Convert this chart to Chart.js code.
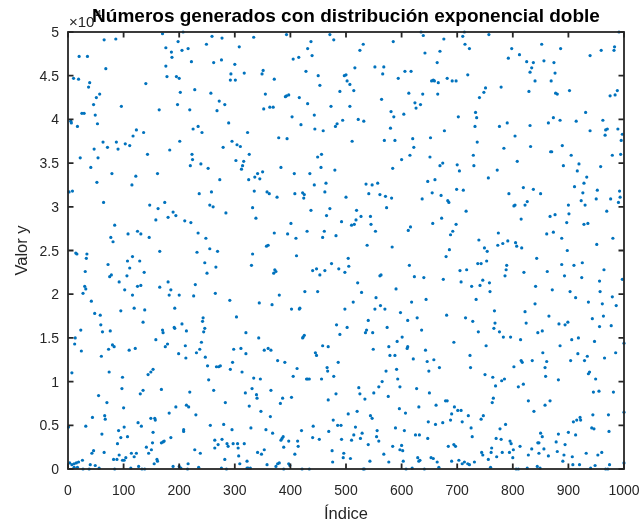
<!DOCTYPE html>
<html>
<head>
<meta charset="utf-8">
<title>Distribución exponencial doble</title>
<script src="https://cdn.jsdelivr.net/npm/chart.js@4.4.1/dist/chart.umd.min.js"></script>
<style>
  html, body { margin: 0; padding: 0; background: #ffffff; }
  #grafico { display: block; }
</style>
</head>
<body>
<canvas id="grafico" width="644" height="523"></canvas>
<script>
// ── Datos ──────────────────────────────────────────────────────────────────
// indice: posición de la muestra; valorY: valor en unidades de 10^4
const indice = [
  65,86,20,35,68,10,19,39,37,57, 51,96,46,25,29,49,5,6,17,53,
  63,87,71,90,47,22,54,41,79,52, 2,8,64,84,77,81,14,16,34,33,
  31,72,75,78,92,30,32,27,42,48, 58,95,59,62,76,23,13,12,24,73,
  80,83,60,7,74,98,97,55,70,100, 44,66,67,1,32,91,61,95,89,65,
  46,43,92,82,88,98,26,3,7,11, 15,19,11,17,27,38,40,49,56,84,

  170,198,176,186,187,176,178,195,200,140, 164,197,123,117,136,103,111,183,143,122,
  161,115,147,174,162,158,180,189,194,108, 125,131,146,165,116,107,129,111,137,106,
  102,125,131,116,165,180,185,182,200,119, 138,192,135,170,171,191,192,158,110,121,
  175,179,199,153,149,144,168,135,130,194, 182,126,132,149,156,157,101,153,107,185,
  168,171,173,152,141,150,145,114,123,119, 104,101,160,161,155,113,127,133,138,189,
  200,

  207,259,277,249,205,216,222,262,276,300, 293,292,202,228,257,219,272,268,282,289,
  225,234,241,201,295,279,223,224,220,239, 252,273,236,258,255,261,284,210,221,234,
  248,232,255,269,246,266,250,229,226,265, 291,243,242,246,244,205,213,240,237,231,
  211,212,247,298,296,251,267,271,274,292, 253,219,262,283,213,217,230,256,280,295,
  208,208,264,277,270,264,286,288,297,228, 238,282,216,203,215,235,276,285,

  334,393,308,317,301,351,349,371,355,391, 393,397,352,363,369,323,379,394,304,310,
  326,302,316,314,312,383,341,350,336,345, 325,335,358,362,376,332,338,395,371,357,
  360,332,330,372,374,370,380,344,367,303, 320,343,311,320,353,360,365,377,390,313,
  334,346,331,365,319,339,340,386,382,326, 347,364,329,356,368,387,385,383,397,305,
  317,388,306,353,341,348,307,322,309,380, 377,358,397,399,374,388,322,324,328,

  471,478,437,431,405,415,439,428,450,497, 500,453,489,416,431,473,403,443,419,444,
  459,481,484,494,449,456,480,455,407,435, 443,464,422,425,424,408,462,471,437,465,
  492,401,430,461,410,458,482,411,474,447, 440,462,453,487,498,426,449,402,416,417,
  498,483,423,422,425,489,458,468,445,447, 412,466,467,486,405,429,431,434,456,478,
  402,482,468,477,441,485,491,420,469,440, 452,492,413,414,408,475,496,495,476,421,
  434,

  531,585,525,516,552,568,566,502,507,514, 594,564,507,581,586,522,532,580,511,569,
  588,600,584,536,547,557,541,561,571,582, 500,573,519,527,518,515,510,544,545,553,
  538,583,504,505,561,563,521,590,528,554, 513,562,570,552,598,502,540,537,535,548,
  574,592,549,577,579,588,591,572,593,565, 559,597,523,525,550,534,576,596,504,520,
  544,547,517,589,529,556,555,514,526,510, 559,540,584,600,597,568,508,543,577,531,
  533,

  635,639,676,642,669,664,606,617,654,657, 659,666,682,691,698,613,638,665,624,626,
  634,604,677,652,620,622,615,651,669,674, 700,647,660,699,637,655,671,683,685,672,
  616,612,656,698,692,688,686,680,614,623, 640,675,644,618,681,611,628,636,601,611,
  610,694,643,621,646,658,649,668,627,650, 679,682,662,631,695,607,690,688,648,661,
  674,605,625,632,647,602,684,694,697,603, 629,631,633,653,657,664,667,690,608,619,
  641,

  713,710,757,714,722,798,792,719,751,748, 740,779,733,735,732,702,776,790,736,784,
  729,730,704,772,756,711,793,716,739,774, 773,782,791,749,754,737,743,705,717,753,
  789,788,786,707,726,741,746,758,759,734, 767,715,728,768,766,776,738,783,796,752,
  723,724,750,764,780,785,769,765,763,701, 707,720,709,747,743,787,725,777,727,770,
  779,762,795,797,744,746,761,781,794,771, 756,800,703,709,713,719,722,731,760,801,

  852,886,812,825,837,834,831,856,874,876, 840,869,829,877,880,873,864,885,831,804,
  832,868,870,889,808,891,819,837,850,802, 804,822,826,815,867,876,900,897,861,873,
  888,805,807,816,898,843,820,862,888,893, 841,871,840,822,865,824,883,894,899,845,
  853,814,885,854,861,858,859,815,817,835, 802,882,819,810,828,838,858,867,850,853,
  882,900,813,834,847,845,856,878,894,892, 880,847,828,864,890,806,810,826,844,849,

  991,983,982,959,939,902,988,984,975,931, 962,914,939,967,970,966,989,997,995,905,
  979,994,919,958,916,933,928,911,952,926, 992,976,993,990,950,923,930,901,969,928,
  935,980,951,910,925,964,924,956,957,997, 903,913,979,986,936,961,963,943,956,977,
  906,918,947,1000,985,965,917,934,929,904, 938,936,949,945,955,981,1000,944,972,915,
  921,922,942,909,946,973,913,1000,907,932, 953,960,908,920,940,948,967,971,974
];

const valorY = [
  4.91,4.92,4.72,4.72,4.58,4.47,4.46,4.42,4.37,4.29, 4.25,4.15,4.17,4.07,4.07,4.05,3.98,3.96,3.92,3.95,
  3.74,3.74,3.68,3.66,3.66,3.56,3.56,3.45,3.38,3.28, 3.17,3.18,3.05,2.79,2.65,2.60,2.47,2.46,2.46,2.41,
  2.26,2.34,2.20,2.22,2.14,2.09,2.06,2.01,1.92,1.78, 1.76,1.81,1.65,1.57,1.58,1.59,1.50,1.43,1.35,1.37,
  1.42,1.40,1.29,1.10,1.11,1.05,0.92,0.84,0.76,0.70, 0.59,0.61,0.57,0.48,0.49,0.44,0.40,0.36,0.29,0.19,
  0.21,0.18,0.16,0.11,0.11,0.10,0.10,0.07,0.05,0.06, 0.07,0.08,0.02,0.02,0.00,0.00,0.05,0.04,0.01,0.00,

  4.98,4.89,4.82,4.77,4.71,4.61,4.49,4.49,4.47,4.41, 4.11,4.17,3.88,3.81,3.85,3.72,3.70,3.65,3.60,3.35,
  3.38,3.25,3.02,3.05,2.98,2.85,2.88,2.94,2.90,2.69, 2.72,2.69,2.65,2.49,2.43,2.38,2.38,2.30,2.25,2.21,
  2.05,2.09,2.10,1.99,2.08,2.14,2.05,1.99,1.99,1.84, 1.82,1.84,1.68,1.59,1.56,1.62,1.61,1.48,1.36,1.38,
  1.40,1.43,1.32,1.14,1.11,1.08,0.91,0.90,0.86,0.71, 0.64,0.53,0.49,0.58,0.58,0.56,0.48,0.42,0.37,0.36,
  0.30,0.31,0.32,0.30,0.25,0.22,0.18,0.18,0.18,0.14, 0.13,0.10,0.11,0.09,0.06,0.01,0.03,0.00,0.00,0.03,
  0.03,

  5.00,4.95,4.93,4.86,4.79,4.81,4.66,4.65,4.68,4.63, 4.52,4.45,4.31,4.34,4.30,4.11,4.21,4.10,4.17,3.96,
  3.89,3.92,3.85,3.75,3.75,3.68,3.60,3.54,3.47,3.49, 3.44,3.31,3.15,3.17,3.02,3.00,2.93,2.84,2.82,2.70,
  2.64,2.48,2.52,2.49,2.36,2.31,2.24,2.11,1.98,2.01, 1.93,1.73,1.69,1.61,1.57,1.66,1.58,1.45,1.37,1.33,
  1.41,1.27,1.28,1.37,1.22,1.18,1.17,1.17,1.18,1.14, 1.02,0.88,0.90,0.76,0.73,0.71,0.62,0.50,0.51,0.45,
  0.45,0.43,0.33,0.34,0.28,0.24,0.29,0.26,0.29,0.22, 0.18,0.11,0.06,0.01,0.00,0.02,0.01,0.00,

  4.94,4.97,4.83,4.53,4.45,4.56,4.52,4.46,4.29,4.26, 4.27,4.28,4.12,4.14,4.14,3.85,3.79,3.78,3.71,3.69,
  3.60,3.53,3.52,3.47,3.43,3.45,3.38,3.40,3.34,3.32, 3.31,3.18,3.17,3.15,3.11,2.99,2.87,2.69,2.70,2.55,
  2.56,2.46,2.33,2.28,2.26,2.24,1.99,1.90,1.88,1.74, 1.56,1.50,1.38,1.32,1.36,1.38,1.36,1.24,1.22,1.11,
  1.04,1.03,0.92,0.90,0.87,0.85,0.81,0.81,0.75,0.72, 0.66,0.60,0.47,0.45,0.41,0.37,0.35,0.33,0.32,0.29,
  0.29,0.25,0.24,0.22,0.19,0.17,0.15,0.09,0.06,0.07, 0.06,0.05,0.06,0.04,0.03,0.00,0.01,0.01,0.01,

  4.97,4.91,4.89,4.81,4.69,4.71,4.73,4.55,4.50,4.50, 4.51,4.39,4.32,4.25,4.18,4.15,4.03,4.05,3.94,3.89,
  3.87,3.92,3.95,3.99,3.57,3.60,3.42,3.45,3.38,3.38, 3.25,3.27,3.16,3.14,3.10,3.15,3.17,2.98,2.96,2.90,
  2.83,2.81,2.72,2.72,2.64,2.65,2.67,2.44,2.35,2.29, 2.27,2.27,2.22,2.29,2.25,2.03,2.03,1.83,1.83,1.84,
  1.83,1.65,1.51,1.50,1.53,1.54,1.41,1.40,1.33,1.30, 1.15,1.16,1.12,1.22,1.06,1.03,1.03,1.03,1.03,1.06,
  0.82,0.86,0.79,0.56,0.49,0.50,0.50,0.44,0.43,0.36, 0.34,0.34,0.32,0.26,0.17,0.21,0.18,0.13,0.08,0.00,
  0.00,

  4.86,4.89,4.79,4.59,4.60,4.60,4.52,4.44,4.40,4.33, 4.47,4.23,4.15,4.09,4.03,4.00,3.98,3.90,3.75,3.76,
  3.76,3.54,3.44,3.26,3.25,3.27,3.15,3.14,3.12,3.10, 3.11,2.99,2.96,2.89,2.85,2.80,2.79,2.89,2.80,2.72,
  2.56,2.54,2.41,2.32,2.21,2.22,2.13,2.06,2.02,1.96, 1.91,1.87,1.83,1.83,1.79,1.62,1.70,1.59,1.56,1.56,
  1.62,1.46,1.37,1.40,1.30,1.30,1.14,1.12,1.03,1.00, 0.94,0.94,0.93,0.86,0.87,0.80,0.83,0.69,0.63,0.66,
  0.61,0.58,0.48,0.47,0.41,0.44,0.37,0.39,0.35,0.33, 0.32,0.28,0.26,0.27,0.22,0.17,0.12,0.09,0.08,0.00,
  0.00,

  5.00,4.96,4.92,4.76,4.78,4.65,4.55,4.55,4.44,4.45, 4.44,4.42,4.47,4.44,4.44,4.30,4.29,4.29,4.19,4.13,
  4.17,4.06,3.87,3.79,3.78,3.68,3.59,3.57,3.47,3.50, 3.48,3.29,3.31,3.20,3.09,3.16,3.13,3.07,3.05,2.87,
  2.77,2.73,2.81,2.80,2.72,2.68,2.51,2.43,2.33,2.20, 2.19,2.17,1.94,1.91,1.76,1.70,1.73,1.59,1.51,1.40,
  1.38,1.45,1.36,1.26,1.23,1.25,1.12,1.16,0.92,0.87, 0.78,0.78,0.73,0.71,0.71,0.64,0.63,0.56,0.54,0.51,
  0.53,0.44,0.39,0.39,0.35,0.21,0.26,0.28,0.26,0.09, 0.13,0.09,0.10,0.13,0.12,0.08,0.02,0.09,0.00,0.01,
  0.00,

  5.00,4.95,4.97,4.86,4.81,4.81,4.70,4.51,4.36,4.31, 4.25,4.37,4.08,4.02,3.92,4.03,3.92,3.96,3.74,3.67,
  3.59,3.47,3.41,3.42,3.33,3.19,3.15,2.95,2.62,2.70, 2.56,2.58,2.61,2.53,2.49,2.35,2.35,2.27,2.28,2.38,
  2.33,2.28,2.21,2.14,2.09,2.10,2.16,2.13,2.03,1.94, 1.81,1.73,1.69,1.67,1.61,1.57,1.57,1.51,1.51,1.41,
  1.30,1.16,1.08,1.05,1.01,1.03,0.95,0.81,0.76,0.67, 0.67,0.61,0.54,0.61,0.57,0.51,0.47,0.46,0.37,0.35,
  0.34,0.24,0.32,0.29,0.19,0.16,0.19,0.19,0.19,0.14, 0.11,0.13,0.10,0.06,0.08,0.06,0.05,0.08,0.02,0.22,

  4.86,4.81,4.74,4.66,4.65,4.59,4.54,4.67,4.65,4.53, 4.44,4.44,4.32,4.30,4.29,4.02,3.96,3.99,3.93,3.81,
  3.69,3.63,3.63,3.70,3.52,3.47,3.22,3.20,3.15,3.01, 3.02,3.02,3.06,2.86,2.89,2.91,3.02,2.82,2.69,2.71,
  2.64,2.59,2.55,2.53,2.50,2.41,2.25,2.26,2.34,2.21, 2.09,2.05,1.89,1.80,1.75,1.67,1.66,1.65,1.68,1.56,
  1.58,1.48,1.41,1.33,1.23,1.16,1.06,1.24,1.22,1.24, 1.17,1.02,0.97,0.94,0.78,0.66,0.73,0.78,0.41,0.37,
  0.40,0.42,0.26,0.23,0.30,0.30,0.23,0.31,0.28,0.16, 0.20,0.18,0.16,0.15,0.09,0.00,0.00,0.01,0.03,0.01,

  5.00,4.83,4.79,4.79,4.73,4.33,4.33,4.28,4.27,4.08, 3.99,3.98,3.87,3.88,3.89,3.82,3.89,3.83,3.76,3.59,
  3.59,3.60,3.49,3.46,3.41,3.34,3.27,3.23,3.19,3.16, 3.18,3.09,3.11,3.05,3.09,3.07,3.02,2.92,2.95,2.80,
  2.81,2.64,2.57,2.33,2.36,2.28,2.19,2.15,2.03,2.17, 2.03,1.96,1.97,1.87,1.91,1.89,1.75,1.72,1.63,1.64,
  1.48,1.50,1.46,1.44,1.33,1.27,1.32,1.29,1.24,1.24, 1.11,1.09,1.03,0.88,0.89,0.88,0.65,0.62,0.62,0.56,
  0.59,0.56,0.47,0.54,0.46,0.43,0.39,0.07,0.14,0.18, 0.16,0.19,0.05,0.05,0.01,0.04,0.00,0.00,0.05
];

// ── Ejes y textos ──────────────────────────────────────────────────────────
const X_TICKS = [0, 100, 200, 300, 400, 500, 600, 700, 800, 900, 1000];
const Y_TICKS = [0, 0.5, 1, 1.5, 2, 2.5, 3, 3.5, 4, 4.5, 5];
const Y_EXPONENTE = "4";
const TITULO = "Números generados con distribución exponencial doble";
const ETIQUETA_X = "Índice";
const ETIQUETA_Y = "Valor y";

const COLOR_PUNTOS = "#0072BD";
const COLOR_EJES = "#262626";
const FUENTE = '"Liberation Sans", Arial, Helvetica, sans-serif';

// Caja, marcas hacia dentro y rótulos al estilo MATLAB
const ejesMatlab = {
  id: "ejesMatlab",
  afterDatasetsDraw(chart) {
    const { ctx, chartArea: a, scales } = chart;
    const sx = scales.x, sy = scales.y;
    const tick = 5.5;

    ctx.save();
    ctx.strokeStyle = COLOR_EJES;
    ctx.lineWidth = 1.8;
    ctx.strokeRect(a.left, a.top, a.right - a.left, a.bottom - a.top);

    ctx.beginPath();
    X_TICKS.forEach(v => {
      const px = sx.getPixelForValue(v);
      ctx.moveTo(px, a.bottom); ctx.lineTo(px, a.bottom - tick);
      ctx.moveTo(px, a.top);    ctx.lineTo(px, a.top + tick);
    });
    Y_TICKS.forEach(v => {
      const py = sy.getPixelForValue(v);
      ctx.moveTo(a.left, py);  ctx.lineTo(a.left + tick, py);
      ctx.moveTo(a.right, py); ctx.lineTo(a.right - tick, py);
    });
    ctx.stroke();

    // rótulos de las marcas
    ctx.fillStyle = COLOR_EJES;
    ctx.font = "14px " + FUENTE;
    ctx.textAlign = "center";
    ctx.textBaseline = "alphabetic";
    X_TICKS.forEach(v => {
      ctx.fillText(String(v), sx.getPixelForValue(v), a.bottom + 26);
    });
    ctx.textAlign = "right";
    Y_TICKS.forEach(v => {
      ctx.fillText(String(v), a.left - 9, sy.getPixelForValue(v) + 5);
    });

    // multiplicador del eje y
    ctx.textAlign = "left";
    ctx.font = "15px " + FUENTE;
    ctx.fillText("×10", a.left + 1, a.top - 5);
    const w = ctx.measureText("×10").width;
    ctx.font = "11px " + FUENTE;
    ctx.fillText(Y_EXPONENTE, a.left + 1 + w + 1, a.top - 14);

    // etiquetas de los ejes
    ctx.font = "16.5px " + FUENTE;
    ctx.textAlign = "center";
    ctx.fillText(ETIQUETA_X, (a.left + a.right) / 2, a.bottom + 50);
    ctx.save();
    ctx.translate(27, (a.top + a.bottom) / 2);
    ctx.rotate(-Math.PI / 2);
    ctx.fillText(ETIQUETA_Y, 0, 0);
    ctx.restore();

    // título
    ctx.fillStyle = "#000000";
    ctx.font = "bold 19px " + FUENTE;
    ctx.fillText(TITULO, (a.left + a.right) / 2, 22);
    ctx.restore();
  }
};

const puntos = indice.map((x, i) => ({ x, y: valorY[i] }));

new Chart(document.getElementById("grafico"), {
  type: "scatter",
  data: {
    datasets: [{
      data: puntos,
      backgroundColor: COLOR_PUNTOS,
      borderWidth: 0,
      pointRadius: 1.6,
      pointHoverRadius: 1.6,
      clip: false,
    }],
  },
  options: {
    responsive: false,
    devicePixelRatio: 1,
    animation: false,
    events: [],
    layout: { padding: { left: 68, right: 20, top: 32, bottom: 54 } },
    plugins: { legend: { display: false }, tooltip: { enabled: false }, title: { display: false } },
    scales: {
      x: { type: "linear", min: 0, max: 1000, display: false },
      y: { type: "linear", min: 0, max: 5, display: false },
    },
  },
  plugins: [ejesMatlab],
});
</script>
</body>
</html>
